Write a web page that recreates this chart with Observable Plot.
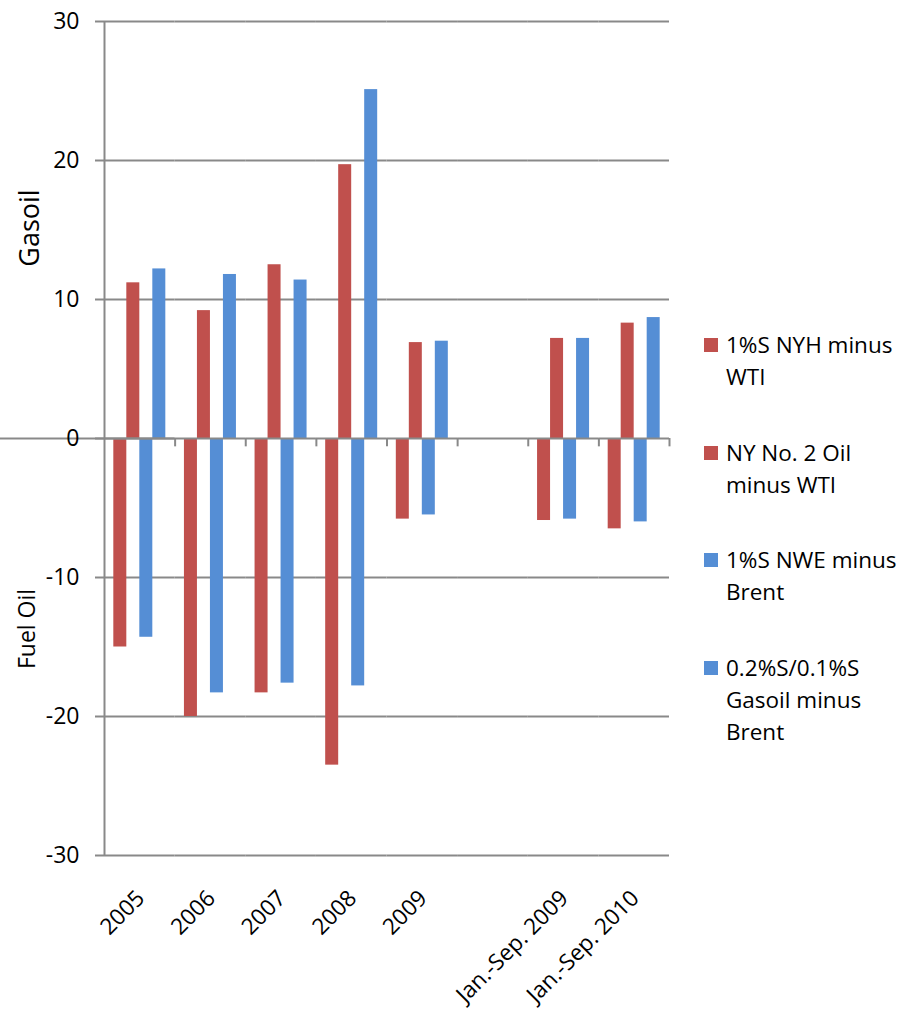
<!DOCTYPE html>
<html>
<head>
<meta charset="utf-8">
<script src="https://cdn.jsdelivr.net/npm/d3@7"></script>
<script src="https://cdn.jsdelivr.net/npm/@observablehq/plot@0.6"></script>
<style>
  body { margin: 0; background: #fff; }
  #wrap { position: relative; width: 904px; height: 1011px; font-family: "Open Sans", sans-serif; color: #000; }
  .leg { position: absolute; left: 704px; font-size: 22.5px; line-height: 32px; }
  .sw { position: absolute; left: 0; top: 9px; width: 14px; height: 14px; }
  .lt { position: absolute; left: 22px; top: 0; white-space: nowrap; }
  .ylab { position: absolute; white-space: nowrap; transform: translate(-50%, -50%) rotate(-90deg); }
</style>
</head>
<body>
<div id="wrap"></div>
<script>
// ---- data ----
const categories = ["2005", "2006", "2007", "2008", "2009", "", "Jan.-Sep. 2009", "Jan.-Sep. 2010"];
const seriesNames = ["1%S NYH minus WTI", "NY No. 2 Oil minus WTI", "1%S NWE minus Brent", "0.2%S/0.1%S Gasoil minus Brent"];
const nyhFuelOil  = [-15.0, -20.0, -18.3, -23.5, -5.8, null, -5.9, -6.5];
const nyNo2Oil    = [11.2, 9.2, 12.5, 19.7, 6.9, null, 7.2, 8.3];
const nweFuelOil  = [-14.3, -18.3, -17.6, -17.8, -5.5, null, -5.8, -6.0];
const gasoilBrent = [12.2, 11.8, 11.4, 25.1, 7.0, null, 7.2, 8.7];
const seriesValues = [nyhFuelOil, nyNo2Oil, nweFuelOil, gasoilBrent];
const seriesColors = ["#C0504D", "#C0504D", "#558ED5", "#558ED5"];
const legendLines = [["1%S NYH minus", "WTI"], ["NY No. 2 Oil", "minus WTI"], ["1%S NWE minus", "Brent"], ["0.2%S/0.1%S", "Gasoil minus", "Brent"]];
const yTicks = [-30, -20, -10, 0, 10, 20, 30];
const axisLabels = { top: "Gasoil", bottom: "Fuel Oil" };

// ---- table ----
const rows = [];
categories.forEach((c, i) => seriesValues.forEach((vals, j) => rows.push({ category: c, series: seriesNames[j], value: vals[i] })));

// ---- layout ----
const W = 904, H = 1011, mL = 104, mR = 235, mT = 21, mB = 156;
const step = (W - mL - mR) / categories.length;
const barW = 13;
const outer = (step - seriesNames.length * barW) / 2;
const gray = "#898989";
const font = '"Open Sans", sans-serif';

const chart = Plot.plot({
  width: W, height: H,
  marginLeft: mL, marginRight: mR, marginTop: mT, marginBottom: mB,
  style: { fontFamily: font, background: "transparent", overflow: "visible", color: "#000" },
  fx: { domain: categories, padding: 0, round: false, axis: null, label: null },
  x: { domain: seriesNames, paddingInner: 0, paddingOuter: outer / barW, round: false, axis: null },
  y: { domain: [-30, 30], label: null },
  color: { domain: seriesNames, range: seriesColors },
  marks: [
    Plot.ruleY(yTicks.filter(d => d !== 0), { stroke: gray, strokeWidth: 2 }),
    Plot.barY(rows, { fx: "category", x: "series", y: "value", fill: "series" }),
    Plot.ruleY([0], { stroke: gray, strokeWidth: 2 }),
    Plot.ruleY([categories[0]], { fx: d => d, y: () => 0, insetLeft: -mL, stroke: gray, strokeWidth: 2 }),
    Plot.ruleX([categories[0]], { fx: d => d, x: () => seriesNames[0], y1: -30, y2: 30, dx: -(outer + barW / 2), stroke: gray, strokeWidth: 2 }),
    Plot.ruleX(categories, { fx: d => d, x: () => seriesNames[seriesNames.length - 1], y1: 0, y2: -0.6, dx: outer + barW / 2, stroke: gray, strokeWidth: 2 }),
    Plot.axisY({ ticks: yTicks, tickSize: 9, tickPadding: 16, tickFormat: d => String(d), fontSize: 23, stroke: gray, strokeWidth: 2, fill: "#000", label: null }),
    Plot.text(categories, { fx: d => d, text: d => d, frameAnchor: "bottom", rotate: -45, textAnchor: "end", lineAnchor: "middle", fontSize: 22.5, fill: "#000", dx: 1, dy: 39 })
  ]
});

const wrap = document.getElementById("wrap");
wrap.appendChild(chart);

// axis titles
const g1 = document.createElement("div");
g1.className = "ylab"; g1.textContent = axisLabels.top;
g1.style.left = "28px"; g1.style.top = "228px"; g1.style.fontSize = "27px";
wrap.appendChild(g1);
const g2 = document.createElement("div");
g2.className = "ylab"; g2.textContent = axisLabels.bottom;
g2.style.left = "26px"; g2.style.top = "629px"; g2.style.fontSize = "23px";
wrap.appendChild(g2);

// legend
let legendTop = 329;
legendLines.forEach((lines, i) => {
  const e = document.createElement("div");
  e.className = "leg";
  e.style.top = legendTop + "px";
  const sw = document.createElement("div");
  sw.className = "sw"; sw.style.background = seriesColors[i];
  e.appendChild(sw);
  const t = document.createElement("div");
  t.className = "lt";
  t.innerHTML = lines.join("<br>");
  t.title = seriesNames[i];
  e.appendChild(t);
  wrap.appendChild(e);
  legendTop += lines.length * 32 + 43.7;
});
</script>
</body>
</html>
